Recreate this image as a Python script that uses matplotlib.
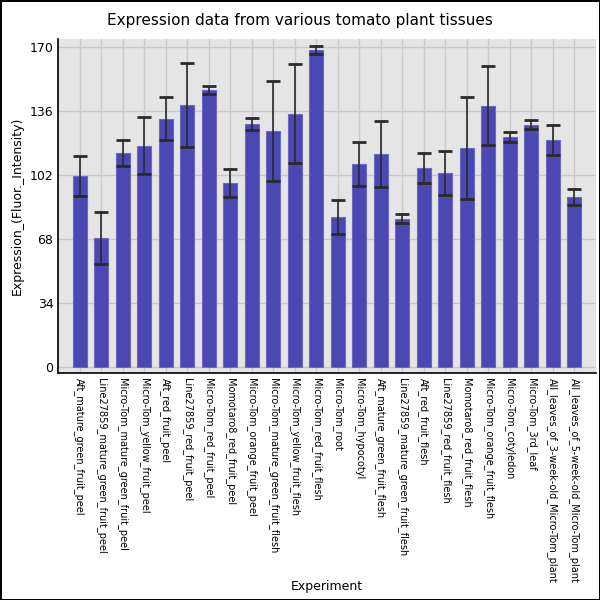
import matplotlib
matplotlib.use("Agg")
import matplotlib.pyplot as plt
import numpy as np

# tissue names and values
tissues = [
    "Aft_mature_green_fruit_peel", "Line27859_mature_green_fruit_peel",
    "Micro-Tom_mature_green_fruit_peel", "Micro-Tom_yellow_fruit_peel",
    "Aft_red_fruit_peel", "Line27859_red_fruit_peel", "Micro-Tom_red_fruit_peel",
    "Momotaro8_red_fruit_peel", "Micro-Tom_orange_fruit_peel",
    "Micro-Tom_mature_green_fruit_flesh", "Micro-Tom_yellow_fruit_flesh",
    "Micro-Tom_red_fruit_flesh", "Micro-Tom_root", "Micro-Tom_hypocotyl",
    "Aft_mature_green_fruit_flesh", "Line27859_mature_green_fruit_flesh",
    "Aft_red_fruit_flesh", "Line27859_red_fruit_flesh", "Momotaro8_red_fruit_flesh",
    "Micro-Tom_orange_fruit_flesh", "Micro-Tom_cotyledon", "Micro-Tom_3rd_leaf",
    "All_leaves_of_3-week-old_Micro-Tom_plant", "All_leaves_of_5-week-old_Micro-Tom_plant",
]
expression = [101.3, 68.4, 113.5, 117.3, 131.6, 139.0, 147.0, 97.6, 129.0, 125.2,
              134.3, 168.3, 79.5, 107.7, 113.0, 78.5, 105.6, 102.9, 116.2, 138.5,
              122.0, 128.5, 120.5, 90.2]
errors = [10.8, 13.7, 6.8, 15.1, 11.4, 22.4, 2.1, 7.6, 3.3, 26.5,
          26.3, 2.1, 9.2, 11.8, 17.7, 2.3, 8.1, 11.5, 27.1, 21.0,
          2.5, 2.3, 8.0, 4.2]
yticks = [0, 34, 68, 102, 136, 170]

fig = plt.figure(figsize=(6, 6), dpi=100)
fig.patch.set_edgecolor("black")
fig.patch.set_linewidth(2)
ax = fig.add_axes([0.097, 0.378, 0.896, 0.557])
ax.set_facecolor("#e5e5e5")

x = np.arange(len(tissues))
ax.bar(x, expression, width=0.67, color="#4b47b3", edgecolor="#6d6ac4",
       linewidth=0.8, zorder=2)
ax.errorbar(x, expression, yerr=errors, fmt="none", ecolor="#2a2a2a",
            elinewidth=1.2, capsize=5, capthick=2, zorder=3)

ax.set_xlim(-1, len(tissues))
ax.set_ylim(-3.5, 174)
ax.set_yticks(yticks)
ax.set_xticks(x)
ax.set_xticklabels(tissues, rotation=-90, fontsize=7, va="top", ha="center")
ax.tick_params(axis="both", length=0)
ax.tick_params(axis="y", labelsize=9)
ax.grid(True, color="#c8c8c8", linewidth=1, zorder=0)
ax.set_axisbelow(True)
for side in ["top", "right"]:
    ax.spines[side].set_visible(False)
ax.spines["left"].set_linewidth(1.2)
ax.spines["bottom"].set_linewidth(1.2)

ax.set_ylabel("Expression_(Fluor._Intensity)", fontsize=9)
ax.set_xlabel("Experiment", fontsize=9)
ax.xaxis.set_label_coords(0.5, -0.62)
fig.suptitle("Expression data from various tomato plant tissues", fontsize=11, y=0.978)

fig.savefig("out.png", dpi=100, edgecolor=fig.get_edgecolor())
